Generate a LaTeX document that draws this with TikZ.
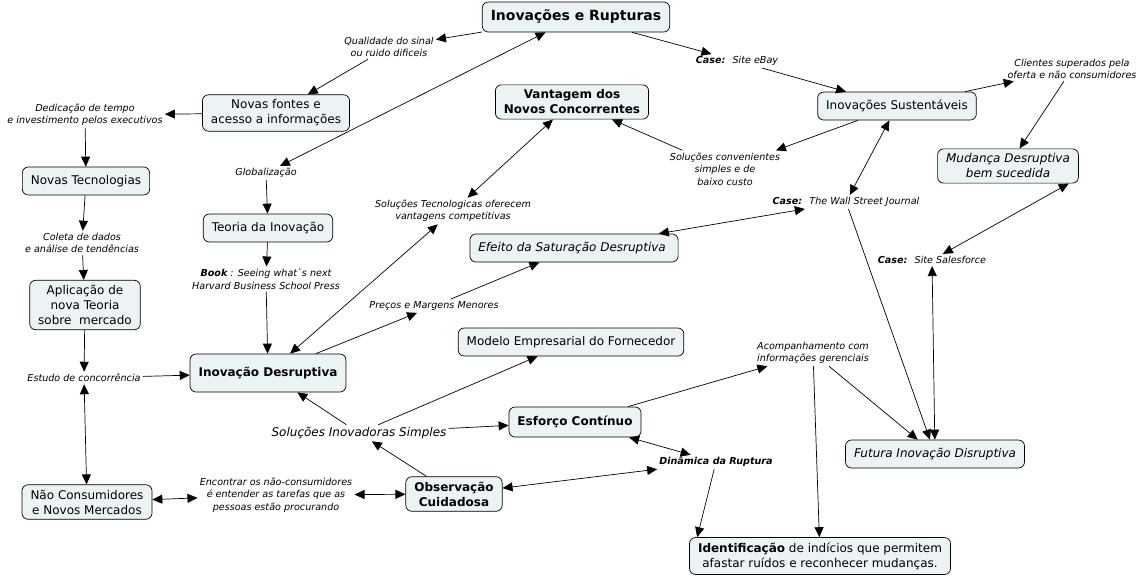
\documentclass[tikz,border=0pt]{standalone}
\usepackage{fontspec}
\setmainfont{DejaVu Sans}
\usepackage{tikz}
\usetikzlibrary{arrows.meta,shapes}
\definecolor{cmapfill}{RGB}{236,243,245}

\begin{document}
\begin{tikzpicture}[x=1pt,y=-1pt,->,>={Triangle[length=10pt,width=9pt]},line width=0.7pt,
	concept/.style={draw,rounded corners=6pt,fill=cmapfill,align=center,inner xsep=8.5pt,inner ysep=5pt,minimum height=28pt,font=\fontsize{12}{15}\selectfont},
	keyconcept/.style={concept,font=\fontsize{12}{15}\selectfont\bfseries},
	itconcept/.style={concept,font=\fontsize{12}{15}\selectfont\itshape},
	title/.style={concept,minimum height=30pt,font=\fontsize{14}{17}\selectfont\bfseries},
	phrase/.style={align=center,inner sep=2pt,font=\fontsize{9.6}{12.5}\selectfont\itshape}]
		\useasboundingbox (0,0) rectangle (1145,579);
		\node[title] (IR) at (576,17) {Inovações e Rupturas};
		\node[concept] (NF) at (276,113) {Novas fontes e\\acesso a informações};
		\node[keyconcept] (VNC) at (572,102) {Vantagem dos\\Novos Concorrentes};
		\node[concept] (IS) at (897,106) {Inovações Sustentáveis};
		\node[itconcept] (MD) at (1008,166) {Mudança Desruptiva\\bem sucedida};
		\node[concept] (NT) at (86,181) {Novas Tecnologias};
		\node[concept] (TI) at (268,228) {Teoria da Inovação};
		\node[itconcept] (ESD) at (574,248) {Efeito da Saturação Desruptiva~};
		\node[concept] (ANT) at (85,305) {Aplicação de\\nova Teoria\\sobre~ mercado};
		\node[concept] (MEF) at (571,342) {Modelo Empresarial do Fornecedor};
		\node[keyconcept,minimum height=38pt] (ID) at (268,373) {Inovação Desruptiva};
		\node[keyconcept,minimum height=30pt] (EC) at (575,422) {Esforço Contínuo};
		\node[itconcept] (FID) at (935,454) {Futura Inovação Disruptiva};
		\node[concept] (NC) at (87,502) {Não Consumidores\\e Novos Mercados};
		\node[keyconcept] (OC) at (454,494) {Observação\\Cuidadosa};
		\node[concept] (IDN) at (820,556) {{\bfseries Identificação} de indícios que permitem\\afastar ruídos e reconhecer mudanças.};
		\node[phrase] (qual) at (389,47) {Qualidade do sinal\\ou ruido dificeis};
		\node[phrase] (dedic) at (85,115) {Dedicação de tempo\\e investimento pelos executivos};
		\node[phrase] (glob) at (266,173) {Globalização};
		\node[phrase] (ebay) at (737,61) {{\bfseries Case:}~ Site eBay};
		\node[phrase] (client) at (1072,69) {Clientes superados pela\\oferta e não consumidores};
		\node[phrase] (solconv) at (725,169) {Soluções convenientes\\simples e de\\baixo custo};
		\node[phrase] (wsj) at (846,202) {{\bfseries Case:}~ The Wall Street Journal};
		\node[phrase] (sales) at (932,260) {{\bfseries Case:}~ Site Salesforce};
		\node[phrase] (coleta) at (82,243) {Coleta de dados\\e análise de tendências};
		\node[phrase] (book) at (266,279) {{\bfseries Book} : Seeing what\textasciigrave s next\\Harvard Business School Press};
		\node[phrase] (soltec) at (453,211) {Soluções Tecnologicas oferecem\\vantagens competitivas};
		\node[phrase] (precos) at (434,306) {Preços e Margens Menores};
		\node[phrase] (estudo) at (84,378) {Estudo de concorrência};
		\node[phrase] (acomp) at (813,353) {Acompanhamento com\\informações gerenciais};
		\node[phrase,font=\fontsize{12}{15}\selectfont\itshape] (solinov) at (359,433) {Soluções Inovadoras Simples};
		\node[phrase] (encont) at (276,495) {Encontrar os não-consumidores\\é entender as tarefas que as\\pessoas estão procurando};
		\node[phrase,font=\fontsize{9.6}{12.5}\selectfont\bfseries\itshape] (dinam) at (716,462) {Dinâmica da Ruptura};
		\path (IR) edge (qual);
		\path (qual) edge (NF);
		\path (NF) edge (dedic);
		\path (dedic) edge (NT);
		\path (glob) edge [<->] (IR);
		\path (glob) edge (TI);
		\path (TI) edge (book);
		\path (book) edge (ID);
		\path (NT) edge (coleta);
		\path (coleta) edge (ANT);
		\path (ANT) edge (estudo);
		\path (estudo) edge (ID);
		\path (estudo) edge [<->] (NC);
		\path (NC) edge [<->] (encont);
		\path (encont) edge [<->] (OC);
		\path (OC) edge (solinov);
		\path (solinov) edge (ID);
		\path (solinov) edge (MEF);
		\path (solinov) edge (EC);
		\path (ID) edge [<->] (soltec);
		\path (soltec) edge [<->] (VNC);
		\path (ID) edge (precos);
		\path (precos) edge (ESD);
		\path (EC) edge (acomp);
		\path (acomp) edge (FID);
		\path (acomp) edge (IDN);
		\path (EC) edge [<->] (dinam);
		\path (OC) edge [<->] (dinam);
		\path (dinam) edge ([xshift=8pt]IDN.north west);
		\path (IR) edge (ebay);
		\path (ebay) edge (IS);
		\path (IS) edge (solconv);
		\path (solconv) edge (VNC);
		\path (IS) edge [<->] (wsj);
		\path (wsj) edge [<->] (ESD);
		\path (wsj) edge (FID);
		\path (IS) edge (client);
		\path (client) edge (MD);
		\path ([xshift=-10pt]MD.south east) edge [<->] (sales);
		\path (sales) edge [<->] (FID);
\end{tikzpicture}
\end{document}
